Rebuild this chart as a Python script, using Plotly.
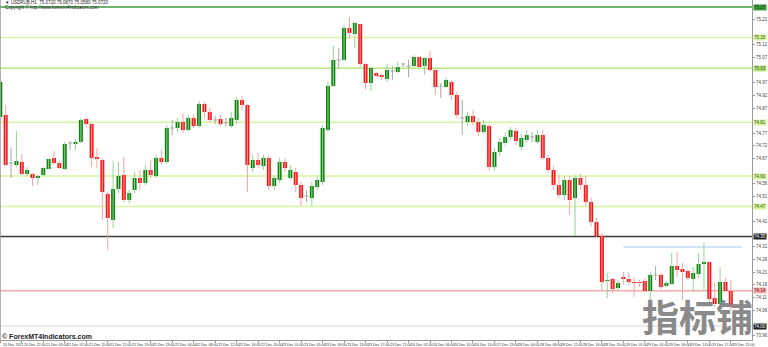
import plotly.graph_objects as go

# ---------------- data ----------------
bar_index = list(range(-1, 136))

open_ = [74.832,
 74.840, 74.648, 74.640, 74.652, 74.604, 74.604, 74.588, 74.600, 74.624, 74.668,
 74.648, 74.624, 74.728, 74.724, 74.732, 74.824, 74.804, 74.672, 74.660, 74.524,
 74.420, 74.544, 74.600, 74.500, 74.540, 74.588, 74.568, 74.620, 74.596, 74.668,
 74.652, 74.788, 74.788, 74.812, 74.780, 74.828, 74.796, 74.884, 74.852, 74.820,
 74.824, 74.808, 74.796, 74.820, 74.900, 74.880, 74.628, 74.660, 74.636, 74.668,
 74.556, 74.580, 74.652, 74.588, 74.612, 74.560, 74.516, 74.508, 74.552, 74.572,
 74.780, 74.956, 75.060, 75.060, 75.188, 75.164, 75.204, 75.044, 74.968, 75.008,
 75.000, 74.984, 75.016, 75.012, 75.044, 75.036, 75.036, 75.072, 75.036, 75.068,
 75.020, 74.956, 74.952, 74.972, 74.920, 74.828, 74.812, 74.836, 74.812, 74.772,
 74.796, 74.632, 74.692, 74.728, 74.752, 74.776, 74.712, 74.740, 74.752, 74.732,
 74.760, 74.668, 74.620, 74.560, 74.520, 74.580, 74.508, 74.588, 74.560, 74.492,
 74.412, 74.356, 74.176, 74.184, 74.148, 74.192, 74.184, 74.172, 74.172, 74.176,
 74.136, 74.200, 74.200, 74.156, 74.164, 74.236, 74.224, 74.216, 74.184, 74.204,
 74.246, 74.252, 74.108, 74.084, 74.172, 74.136]

high = [74.988,
 74.880, 74.708, 74.776, 74.684, 74.632, 74.608, 74.600, 74.632, 74.668, 74.696,
 74.656, 74.732, 74.736, 74.744, 74.828, 74.828, 74.808, 74.708, 74.668, 74.532,
 74.656, 74.652, 74.672, 74.540, 74.612, 74.620, 74.640, 74.660, 74.680, 74.700,
 74.800, 74.820, 74.828, 74.848, 74.840, 74.844, 74.896, 74.892, 74.868, 74.836,
 74.840, 74.828, 74.852, 74.912, 74.916, 74.884, 74.680, 74.688, 74.680, 74.676,
 74.600, 74.668, 74.668, 74.640, 74.628, 74.572, 74.540, 74.572, 74.596, 74.800,
 74.972, 75.116, 75.108, 75.200, 75.232, 75.212, 75.204, 75.048, 75.032, 75.012,
 75.004, 75.044, 75.036, 75.052, 75.048, 75.060, 75.080, 75.076, 75.072, 75.096,
 75.024, 74.968, 74.988, 74.980, 74.932, 74.900, 74.852, 74.860, 74.828, 74.820,
 74.804, 74.708, 74.748, 74.768, 74.792, 74.788, 74.764, 74.780, 74.772, 74.780,
 74.780, 74.680, 74.636, 74.600, 74.596, 74.596, 74.600, 74.604, 74.596, 74.508,
 74.428, 74.368, 74.208, 74.188, 74.180, 74.212, 74.212, 74.188, 74.180, 74.188,
 74.212, 74.236, 74.208, 74.176, 74.288, 74.292, 74.248, 74.224, 74.232, 74.288,
 74.328, 74.256, 74.172, 74.232, 74.188, 74.180]

low = [74.828,
 74.636, 74.588, 74.632, 74.600, 74.596, 74.556, 74.560, 74.596, 74.624, 74.640,
 74.624, 74.620, 74.700, 74.700, 74.728, 74.792, 74.632, 74.628, 74.420, 74.300,
 74.388, 74.528, 74.492, 74.488, 74.528, 74.540, 74.560, 74.588, 74.588, 74.640,
 74.644, 74.760, 74.772, 74.768, 74.776, 74.788, 74.788, 74.828, 74.812, 74.804,
 74.796, 74.792, 74.788, 74.804, 74.860, 74.532, 74.612, 74.628, 74.620, 74.540,
 74.540, 74.568, 74.612, 74.580, 74.532, 74.476, 74.492, 74.476, 74.540, 74.560,
 74.772, 74.952, 75.024, 75.060, 75.144, 75.108, 75.032, 74.944, 74.936, 74.992,
 74.980, 74.972, 74.980, 75.008, 75.032, 74.992, 75.032, 75.028, 75.000, 75.012,
 74.920, 74.908, 74.948, 74.900, 74.828, 74.760, 74.796, 74.800, 74.756, 74.764,
 74.620, 74.620, 74.676, 74.716, 74.740, 74.720, 74.700, 74.728, 74.732, 74.724,
 74.660, 74.608, 74.540, 74.508, 74.500, 74.440, 74.356, 74.540, 74.476, 74.396,
 74.348, 74.140, 74.108, 74.128, 74.136, 74.160, 74.160, 74.112, 74.152, 74.132,
 74.092, 74.180, 74.144, 74.152, 74.160, 74.192, 74.100, 74.180, 74.132, 74.188,
 74.140, 74.092, 74.072, 74.080, 74.132, 74.060]

close = [74.972,
 74.640, 74.648, 74.656, 74.604, 74.620, 74.588, 74.596, 74.628, 74.664, 74.648,
 74.628, 74.724, 74.728, 74.732, 74.820, 74.804, 74.668, 74.664, 74.532, 74.428,
 74.544, 74.596, 74.500, 74.528, 74.588, 74.568, 74.620, 74.600, 74.668, 74.652,
 74.788, 74.788, 74.812, 74.780, 74.828, 74.796, 74.884, 74.852, 74.820, 74.820,
 74.804, 74.808, 74.828, 74.900, 74.880, 74.640, 74.660, 74.640, 74.668, 74.556,
 74.588, 74.652, 74.628, 74.620, 74.560, 74.508, 74.516, 74.556, 74.580, 74.788,
 74.956, 75.060, 75.060, 75.188, 75.168, 75.208, 75.044, 74.968, 75.028, 74.996,
 74.992, 75.020, 75.016, 75.032, 75.044, 75.036, 75.072, 75.032, 75.068, 75.020,
 74.952, 74.956, 74.980, 74.920, 74.840, 74.828, 74.836, 74.812, 74.772, 74.800,
 74.632, 74.692, 74.732, 74.752, 74.780, 74.736, 74.748, 74.760, 74.752, 74.760,
 74.668, 74.620, 74.560, 74.520, 74.580, 74.500, 74.588, 74.560, 74.492, 74.412,
 74.356, 74.172, 74.180, 74.144, 74.168, 74.184, 74.172, 74.168, 74.168, 74.136,
 74.200, 74.200, 74.152, 74.168, 74.236, 74.220, 74.212, 74.188, 74.208, 74.244,
 74.250, 74.104, 74.084, 74.172, 74.136, 74.072]

time_labels = ["20 Dec 2021", "20 Dec 22:00", "21 Dec 03:00", "21 Dec 07:00", "21 Dec 11:00",
               "21 Dec 15:00", "21 Dec 19:00", "21 Dec 23:00", "22 Dec 04:00", "22 Dec 08:00",
               "22 Dec 12:00", "22 Dec 16:00", "22 Dec 20:00", "23 Dec 01:00", "23 Dec 05:00",
               "23 Dec 09:00", "23 Dec 13:00", "23 Dec 17:00", "23 Dec 21:00", "24 Dec 02:00",
               "24 Dec 06:00", "24 Dec 10:00", "24 Dec 14:00", "27 Dec 23:00", "28 Dec 04:00",
               "28 Dec 08:00", "28 Dec 12:00", "28 Dec 16:00", "28 Dec 20:00", "29 Dec 01:00",
               "29 Dec 05:00", "29 Dec 09:00", "29 Dec 13:00", "29 Dec 17:00", "29 Dec 21:00"]
time_label_bars = [4 * k - 1 for k in range(len(time_labels))]

level_prices = [75.272, 75.150, 75.027, 74.811, 74.596, 74.474, 74.354, 74.137, 73.996]
level_colors = ["#3f9f3f", "#d3f79c", "#b5e77c", "#d3f79c", "#d3f79c", "#d3f79c",
                "#3a3a3a", "#f6aaaa", "#e4e4e4"]
level_label_bg = ["#3f9f3f", "#d3f79c", "#b5e77c", "#d3f79c", "#d3f79c", "#d3f79c",
                  "#202020", "#f6aaaa", "#202020"]
level_label_fg = ["#0a3a0a", "#355010", "#355010", "#355010", "#355010", "#355010",
                  "#ffffff", "#601010", "#ffffff"]

segment_price = 74.312
segment_bars = [115, 137]

price_tick_start = 75.272
price_tick_step = 0.0505

header_line1 = "\u25bc USDRUB,H1  75.0720 75.0870 75.0580 75.0720"
header_line2 = "Copyright \u00a9 http://www.forexmt4indicators.com"
watermark_en = "\u00a9 ForexMT4Indicators.com"
watermark_cn = "\u6307\u6807\u94fa"

# ---------------- styles ----------------
BULL_BODY, BEAR_BODY = "#0d820d", "#fb1212"
BULL_WICK, BEAR_WICK, DOJI = "#95d395", "#f6a3a3", "#a8a8a8"
FONT = "Liberation Sans"

fig = go.Figure()

wicks = {"bull": ([], []), "bear": ([], []), "doji": ([], [])}
bodies = {"bull": ([], [], []), "bear": ([], [], [])}
doji_ticks = ([], [])
for i, o, h, l, c in zip(bar_index, open_, high, low, close):
    if abs(c - o) < 1e-9:
        kind = "doji"
        doji_ticks[0].extend([i - 0.38, i + 0.38, None])
        doji_ticks[1].extend([o, o, None])
    elif c > o:
        kind = "bull"
    else:
        kind = "bear"
    wicks[kind][0].extend([i, i, None])
    wicks[kind][1].extend([h, l, None])
    if kind != "doji":
        bodies[kind][0].append(i)
        bodies[kind][1].append(abs(c - o))
        bodies[kind][2].append(min(o, c))

for kind, col in (("bull", BULL_WICK), ("bear", BEAR_WICK), ("doji", DOJI)):
    fig.add_trace(go.Scatter(x=wicks[kind][0], y=wicks[kind][1], mode="lines",
                             line=dict(color=col, width=1), hoverinfo="skip"))
fig.add_trace(go.Scatter(x=doji_ticks[0], y=doji_ticks[1], mode="lines",
                         line=dict(color=DOJI, width=1), hoverinfo="skip"))
for kind, col in (("bull", BULL_BODY), ("bear", BEAR_BODY)):
    fig.add_trace(go.Bar(x=bodies[kind][0], y=bodies[kind][1], base=bodies[kind][2],
                         width=0.74, marker=dict(color=col, line=dict(width=0))))

# price ticks, skipping those hidden under level tags
price_ticks = []
t = price_tick_start
while t > 73.94:
    if min(abs(t - lp) for lp in level_prices) > 0.024:
        price_ticks.append(round(t, 4))
    t -= price_tick_step

# level lines
shapes = []
for p, col in zip(level_prices, level_colors):
    shapes.append(dict(type="line", xref="paper", x0=0, x1=1, yref="y", y0=p, y1=p,
                       line=dict(color=col, width=1.3), layer="below"))
shapes.append(dict(type="line", xref="x", x0=segment_bars[0], x1=segment_bars[1], yref="y",
                   y0=segment_price, y1=segment_price,
                   line=dict(color="#a9c9ef", width=1.2), layer="below"))
shapes.append(dict(type="line", xref="paper", x0=0, x1=0, yref="paper", y0=0, y1=1,
                   line=dict(color="#9a9a9a", width=1.5)))

annotations = []
for p, bg, fg in zip(level_prices, level_label_bg, level_label_fg):
    annotations.append(dict(xref="paper", x=1, xanchor="left", xshift=1, yref="y", y=p,
                            yanchor="middle", text=f"{p:.2f}", showarrow=False,
                            bgcolor=bg, borderpad=0,
                            font=dict(size=4.5, color=fg, family=FONT)))
for b, t in zip(time_label_bars, time_labels):
    annotations.append(dict(xref="x", x=b, xanchor="left", xshift=0.5, yref="paper", y=0,
                            yanchor="top", yshift=-1, text=t, showarrow=False,
                            font=dict(size=3.6, color="#333333", family=FONT)))
annotations.append(dict(xref="paper", x=0.004, xanchor="left", yref="paper", y=0.992,
                        yanchor="middle", text=header_line1, showarrow=False,
                        font=dict(size=4.5, color="#222222", family=FONT)))
annotations.append(dict(xref="paper", x=0.004, xanchor="left", yref="paper", y=0.979,
                        yanchor="middle", text=header_line2, showarrow=False,
                        font=dict(size=4.5, color="#222222", family=FONT)))
annotations.append(dict(xref="paper", x=0.0, xanchor="left", yref="paper", y=0.011,
                        yanchor="middle", text="<b>" + watermark_en + "</b>", showarrow=False,
                        font=dict(size=7, color="#222222", family=FONT)))
annotations.append(dict(xref="paper", x=0.927, xanchor="center", yref="paper", y=0.072,
                        yanchor="middle", text="<b>" + watermark_cn + "</b>", showarrow=False,
                        font=dict(size=37, color="#8a8a8a", family="Noto Sans CJK SC")))

fig.update_layout(
    width=768, height=347,
    margin=dict(l=0, r=12, t=0, b=7),
    paper_bgcolor="white", plot_bgcolor="white",
    showlegend=False, barmode="overlay",
    shapes=shapes, annotations=annotations,
    xaxis=dict(range=[-1.0556, 138.944], showgrid=False, zeroline=False,
               showline=True, linecolor="#9a9a9a", linewidth=1,
               ticks="outside", ticklen=2, tickcolor="#9a9a9a",
               tickvals=time_label_bars, showticklabels=False, fixedrange=True),
    yaxis=dict(range=[73.94, 75.30], side="right", showgrid=False, zeroline=False,
               showline=True, linecolor="#9a9a9a", linewidth=1,
               ticks="outside", ticklen=2, tickcolor="#9a9a9a",
               tickvals=price_ticks, tickformat=".2f",
               tickfont=dict(size=4.5, color="#444444", family=FONT)),
)

fig.write_html("out.html")
